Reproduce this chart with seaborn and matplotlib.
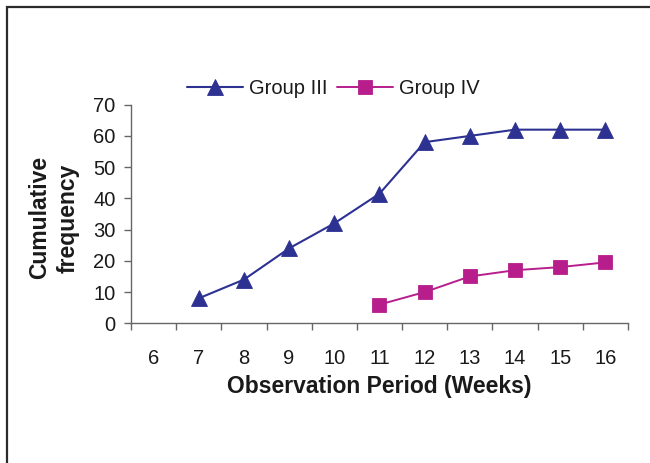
import matplotlib
matplotlib.use("Agg")
import matplotlib.pyplot as plt
from matplotlib.patches import Rectangle
from matplotlib.ticker import FixedLocator
import seaborn as sns

# Observation weeks (category axis) and cumulative frequencies per group
weeks = [6, 7, 8, 9, 10, 11, 12, 13, 14, 15, 16]
weeks_g3 = [7, 8, 9, 10, 11, 12, 13, 14, 15, 16]
group_iii = [8, 14, 24, 32, 41.5, 58, 60, 62, 62, 62]
weeks_g4 = [11, 12, 13, 14, 15, 16]
group_iv = [6, 10, 15, 17, 18, 19.5]
y_ticks = [0, 10, 20, 30, 40, 50, 60, 70]

NAVY = "#2D3192"
MAGENTA = "#B71E8C"
AXIS_GRAY = "#666666"

sns.set_style("white")
plt.rcParams["font.family"] = ["Liberation Sans", "DejaVu Sans"]

fig = plt.figure(figsize=(6.5, 4.63), dpi=100)
fig.patch.set_facecolor("white")
ax = fig.add_axes([0.2015, 0.3017, 0.7646, 0.4722])

sns.lineplot(x=weeks_g3, y=group_iii, ax=ax, color=NAVY, lw=1.5,
             marker="^", markersize=11, markeredgecolor=NAVY,
             markeredgewidth=0.6, label="Group III")
sns.lineplot(x=weeks_g4, y=group_iv, ax=ax, color=MAGENTA, lw=1.4,
             marker="s", markersize=9.5, markeredgecolor=MAGENTA,
             markeredgewidth=0.6, label="Group IV")

ax.set_xlim(weeks[0] - 0.5, weeks[-1] + 0.5)
ax.set_ylim(y_ticks[0], y_ticks[-1])

# category labels centred, tick marks between categories
ax.xaxis.set_major_locator(FixedLocator(weeks))
ax.set_xticklabels([str(w) for w in weeks])
ax.xaxis.set_minor_locator(FixedLocator([w - 0.5 for w in weeks] + [weeks[-1] + 0.5]))
ax.tick_params(axis="x", which="major", length=0, pad=18.5, labelsize=14.5,
               labelcolor="#1a1a1a")
ax.tick_params(axis="x", which="minor", length=5, width=1, color=AXIS_GRAY,
               direction="out", bottom=True)

ax.set_yticks(y_ticks)
ax.tick_params(axis="y", length=5, width=1, color=AXIS_GRAY, direction="out",
               pad=6, labelsize=14.5, labelcolor="#1a1a1a", left=True)

for side in ("top", "right"):
    ax.spines[side].set_visible(False)
for side in ("left", "bottom"):
    ax.spines[side].set_color(AXIS_GRAY)
    ax.spines[side].set_linewidth(1)

ax.set_xlabel("Observation Period (Weeks)", fontsize=16.5, fontweight="bold",
              color="#1a1a1a", labelpad=5)
ax.set_ylabel("Cumulative\nfrequency", fontsize=16.5, fontweight="bold",
              color="#1a1a1a", linespacing=1.3)
ax.yaxis.label.set_va("center")
ax.yaxis.set_label_coords(-0.155, 0.482)

leg = ax.legend(loc="center left", bbox_to_anchor=(0.1127, 1.072), frameon=False,
                ncol=2, borderpad=0, borderaxespad=0, handlelength=2.8,
                handletextpad=0.3, columnspacing=0.45, fontsize=14.5)
for t in leg.get_texts():
    t.set_color("#1a1a1a")

# outer frame of the figure panel
fig.patches.append(Rectangle((7 / 650, -0.2), 1.2, 0.2 + (1 - 7 / 463),
                             transform=fig.transFigure, fill=False,
                             edgecolor="#2b2b2b", linewidth=1.6, clip_on=False))

fig.savefig("out.png", dpi=100, facecolor="white")
